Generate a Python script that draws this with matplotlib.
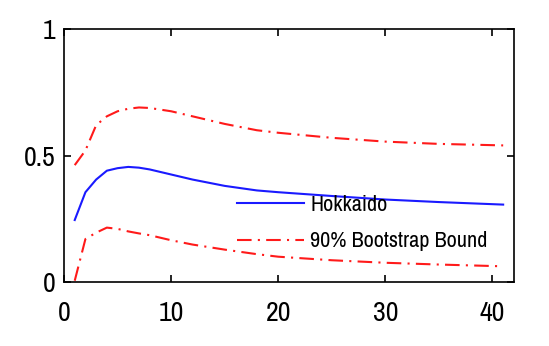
import numpy as np
import matplotlib.pyplot as plt

horizon = [1, 2, 3, 4, 5, 6, 7, 8, 10, 12, 15, 18, 20, 25, 30, 35, 41]
hokkaido = [0.245, 0.355, 0.405, 0.44, 0.45, 0.455, 0.452, 0.445, 0.425, 0.405,
            0.38, 0.362, 0.355, 0.34, 0.326, 0.316, 0.306]
upper = [0.462, 0.52, 0.62, 0.655, 0.675, 0.685, 0.69, 0.688, 0.675, 0.655,
         0.625, 0.6, 0.59, 0.57, 0.555, 0.546, 0.54]
lower = [0.005, 0.17, 0.195, 0.215, 0.21, 0.2, 0.192, 0.185, 0.165, 0.148,
         0.128, 0.11, 0.1, 0.086, 0.076, 0.069, 0.062]

plt.rcParams['font.family'] = ['Archivo Narrow', 'Liberation Sans', 'DejaVu Sans']

fig = plt.figure(figsize=(5.49, 3.46), dpi=100)
ax = fig.add_axes([0.1166, 0.185, 0.8194, 0.731])

dashdot = (0, (7, 3, 1, 3))
ax.plot(horizon, hokkaido, color='#1a1aff', linewidth=1.5, label='Hokkaido')
ax.plot(horizon, upper, color='#ff1a1a', linestyle=dashdot, linewidth=1.5,
        label='90% Bootstrap Bound')
ax.plot(horizon, lower, color='#ff1a1a', linestyle=dashdot, linewidth=1.5)

ax.set_xlim(0, 42)
ax.set_ylim(0, 1)
ax.set_xticks([0, 10, 20, 30, 40])
ax.set_yticks([0, 0.5, 1])
ax.set_yticklabels(['0', '0.5', '1'])
ax.tick_params(direction='in', length=5, top=True, right=True,
               labelsize=20, width=1.2)
ax.tick_params(axis='x', pad=14)
ax.tick_params(axis='y', pad=6)
for s in ax.spines.values():
    s.set_linewidth(1.2)

ax.legend(loc='upper left', bbox_to_anchor=(0.365, 0.38), frameon=False,
          fontsize=16, handlelength=3.0, handletextpad=0.3, labelspacing=0.75,
          borderaxespad=0)

fig.savefig('out.png', dpi=100)
